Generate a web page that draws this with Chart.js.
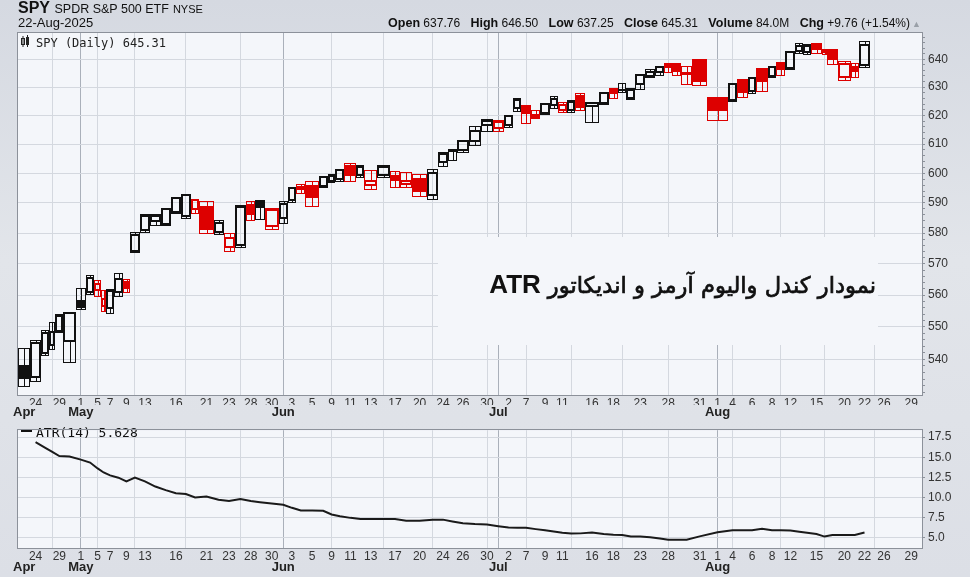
<!DOCTYPE html>
<html>
<head>
<meta charset="utf-8">
<script src="https://cdn.jsdelivr.net/npm/chart.js@4.4.1/dist/chart.umd.min.js"></script>
<style>
html,body{margin:0;padding:0}
body{width:970px;height:577px;overflow:hidden;position:relative;background:linear-gradient(180deg,#d5d9e1 0%,#e2e5ea 45%,#dcdfe6 100%);font-family:"Liberation Sans",Arial,sans-serif;color:#111}
canvas{position:absolute;left:0}
#main{top:0}
#atr{top:420px}
#sym{position:absolute;left:18px;top:-1px;line-height:18px;white-space:nowrap}
#sym b{font-size:16px}
#sym .name{font-size:12.5px}
#sym .ex{font-size:11px;margin-left:4px}
#date{position:absolute;left:18px;top:16px;font-size:13px;line-height:14px}
#quote{position:absolute;right:60px;top:16px;font-size:12px;line-height:14px;white-space:nowrap}
#quote b{font-size:12.5px;margin-left:7px}
#quote .up{color:#9aa0a8;font-size:9px;position:absolute;right:-11px;top:1px}
</style>
</head>
<body>
<canvas id="main" width="970" height="420"></canvas>
<canvas id="atr" width="970" height="157"></canvas>
<div id="sym"><b>SPY</b> <span class="name">SPDR S&amp;P 500 ETF</span><span class="ex">NYSE</span></div>
<div id="date">22-Aug-2025</div>
<div id="quote"></div>
<script>
// trading days shown (SPY daily, CandleVolume)
const dates = ['2025-04-23','2025-04-24','2025-04-25','2025-04-28','2025-04-29','2025-04-30','2025-05-01','2025-05-02','2025-05-05','2025-05-06',
'2025-05-07','2025-05-08','2025-05-09','2025-05-12','2025-05-13','2025-05-14','2025-05-15','2025-05-16','2025-05-19','2025-05-20',
'2025-05-21','2025-05-22','2025-05-23','2025-05-27','2025-05-28','2025-05-29','2025-05-30','2025-06-02','2025-06-03','2025-06-04',
'2025-06-05','2025-06-06','2025-06-09','2025-06-10','2025-06-11','2025-06-12','2025-06-13','2025-06-16','2025-06-17','2025-06-18',
'2025-06-20','2025-06-23','2025-06-24','2025-06-25','2025-06-26','2025-06-27','2025-06-30','2025-07-01','2025-07-02','2025-07-03',
'2025-07-07','2025-07-08','2025-07-09','2025-07-10','2025-07-11','2025-07-14','2025-07-15','2025-07-16','2025-07-17','2025-07-18',
'2025-07-21','2025-07-22','2025-07-23','2025-07-24','2025-07-25','2025-07-28','2025-07-29','2025-07-30','2025-07-31','2025-08-01',
'2025-08-04','2025-08-05','2025-08-06','2025-08-07','2025-08-08','2025-08-11','2025-08-12','2025-08-13','2025-08-14','2025-08-15',
'2025-08-18','2025-08-19','2025-08-20','2025-08-21','2025-08-22'];

const opens = [538.3,534.5,542,544.5,548.8,545.5,558.5,561,561.5,556.5,
556,561,564.5,574,581,584,583,587,585.5,588,
589,580.5,575.5,576,589.5,591,582.5,585,591,595.8,
596,595.7,597.5,598,602.8,599.3,596,599.5,599.5,596.5,
598.5,592.5,604,607.8,608,611,616.5,615.5,616.5,622.5,
623.5,619.5,621,623.5,622,622,627.3,623.3,624.3,629.5,
629.2,626,631,634,635.5,638.3,638.3,635.3,639.7,626.2,
625.5,632.6,628.5,636.5,634,638.8,637,643,642.5,645.8,
642.5,643.5,633.5,637.5,637.76];

const highs = [543.5,545.8,548.9,551.5,554.1,554.6,562.3,566.4,564.7,561.6,
562,567.1,565.2,580.3,586.2,586.2,588.4,591.7,593.1,591.4,
590.7,584.4,580.2,589.3,590.7,591,588.4,590.7,595.3,596.2,
597.3,599,599.6,601.4,603.4,602.8,601.2,602.8,600.7,600.4,
599.7,601.3,607.1,608.3,611.5,616.2,618.8,618.4,620,626,
623.8,621.9,624.5,626.9,624.7,625.4,628,624.7,628.4,629.8,
631.6,629.6,634.3,636.4,637.6,638.5,638.5,637.6,640,626.4,
631.3,632.8,633.7,636.8,637.6,639.1,642.8,646,645.6,646,
643.6,643.6,639.5,638.5,646.5];

const lows = [531.9,533.5,541.3,543.3,548.4,539.3,555.5,560.4,559.8,555,
554.2,559.8,560.9,573.8,580.3,582.8,582.6,586.5,584.9,586.5,
580.2,579.6,574.2,575.3,584.4,584.5,581.4,583.5,590.2,593.4,
589,595.2,596.9,597.5,597.5,598.8,594.6,598.7,595.4,595.4,
592.2,591.4,602.5,604.5,607.1,609.6,614.6,614.6,615.8,621.7,
617.4,619,620.4,622.6,621.2,621.2,622,617.8,624,626.2,
628.3,625.6,629.2,633.7,634.3,635.5,634.3,631,630.7,618.2,
625.1,626.4,628,628.7,633.5,634.3,636.4,642.4,642,642.4,
641.9,638.3,632.5,633.5,637.25];

const closes = [534,545,548.2,548.5,553.5,554.2,556,565.5,563.5,558.8,
561.2,565,562,579.5,585.5,585.8,588,591.5,592.5,591,
581,583.2,578.5,588.8,586,588.2,587.5,589.8,595,594.5,
591.5,598.7,599.2,601,599,602.3,597.5,602.2,597.5,597.3,
593.5,600,606.5,607.1,611,614.5,617.9,617.6,619.8,625.3,
620.5,620.3,624,625.8,623.6,624.8,622.5,624.2,628,627.5,
628.6,628.9,634.2,635.5,637.2,637,635.5,634.5,632,621.7,
631,628,633.2,632,637.2,636,642.5,644.8,645,643.5,
643.3,639.8,638.2,635.55,645.31];

const priorClose = 527.25;

// volume in millions (sets candle width)
const volume = [89,74,60,46,55,91,72,61,47,39,
54,65,50,72,72,77,72,74,70,62,
101,72,79,84,65,67,101,65,60,67,
95,65,55,65,86,57,91,90,77,84,
108,79,69,67,83,89,86,76,70,55,
72,67,67,57,67,60,72,95,72,67,
60,65,68,75,65,55,65,79,108,148,
67,76,62,81,62,65,72,55,57,79,
36,76,96,55,84];

const atr = [null,16.87,16.2,15.66,15.15,15.08,14.7,14.33,13.6,13.1,
12.74,12.45,12.0,12.47,12.0,11.35,10.9,10.52,10.42,10.0,
10.12,9.7,9.55,9.81,9.54,9.4,9.25,9.07,8.7,8.36,
8.36,8.33,7.87,7.65,7.45,7.31,7.31,7.31,7.31,7.1,
7.08,7.23,7.23,7.0,6.77,6.68,6.63,6.42,6.24,6.21,
6.21,6.05,5.9,5.75,5.6,5.5,5.52,5.62,5.45,5.34,
5.31,5.14,5.12,5.05,4.88,4.74,4.73,4.74,5.15,5.65,
5.9,5.9,5.9,6.09,5.9,5.9,5.88,5.72,5.6,5.43,
5.12,5.32,5.32,5.33,5.628];

// empty days on the right of the chart
const futureDates = ['2025-08-25','2025-08-26','2025-08-27','2025-08-28','2025-08-29'];
const futureVolume = 65;

// day numbers printed under the axis
const labeledDates = ['2025-04-24','2025-04-29','2025-05-01','2025-05-05','2025-05-07','2025-05-09','2025-05-13','2025-05-16','2025-05-21','2025-05-23',
'2025-05-28','2025-05-30','2025-06-03','2025-06-05','2025-06-09','2025-06-11','2025-06-13','2025-06-17','2025-06-20','2025-06-24',
'2025-06-26','2025-06-30','2025-07-02','2025-07-07','2025-07-09','2025-07-11','2025-07-16','2025-07-18','2025-07-23','2025-07-28',
'2025-07-31','2025-08-01','2025-08-04','2025-08-06','2025-08-08','2025-08-12','2025-08-15','2025-08-20','2025-08-22','2025-08-26','2025-08-29'];

const priceTicks = [540,550,560,570,580,590,600,610,620,630,640];
const atrTicks = [5,7.5,10,12.5,15,17.5];
const priceMin = 529.2, priceMax = 649.6;
const atrMin = 3.7, atrMax = 18.36;
const monthNames = ['Jan','Feb','Mar','Apr','May','Jun','Jul','Aug','Sep','Oct','Nov','Dec'];

const RED = '#dd0000', BLACK = '#111111', PLOT_BG = '#f4f6fa', GRID = '#d4d8df', GRID_MONTH = '#aab0ba';
const FONT = '"Liberation Sans", Arial, sans-serif';
Chart.defaults.font.family = FONT;

// x positions = cumulative volume
const allDates = dates.concat(futureDates);
const allVolume = volume.concat(futureDates.map(() => futureVolume));
const starts = [], ends = [], centers = [];
let acc = 0;
allVolume.forEach(v => { starts.push(acc); centers.push(acc + v / 2); acc += v; ends.push(acc); });
const xMax = acc + 0.7 * futureVolume;

const info = allDates.map(d => {
  const t = new Date(d + 'T00:00:00Z');
  return { day: t.getUTCDate(), month: t.getUTCMonth(), dow: t.getUTCDay(), time: t.getTime() };
});
const weekStart = info.map((o, i) => i > 0 && (o.dow < info[i - 1].dow || o.time - info[i - 1].time > 6 * 864e5));
const monthStart = info.map((o, i) => i > 0 && o.month !== info[i - 1].month);
const monthIdx = info.map((o, i) => i).filter(i => i === 0 || monthStart[i]);
const labeled = new Set(labeledDates);

// header text from the last bar
const n = closes.length - 1;
const chg = closes[n] - closes[n - 1];
document.getElementById('quote').innerHTML =
  '<b>Open</b> ' + opens[n].toFixed(2) + ' <b>High</b> ' + highs[n].toFixed(2) +
  ' <b>Low</b> ' + lows[n].toFixed(2) + ' <b>Close</b> ' + closes[n].toFixed(2) +
  ' <b>Volume</b> ' + volume[n].toFixed(1) + 'M <b>Chg</b> +' + chg.toFixed(2) +
  ' (+' + (chg / closes[n - 1] * 100).toFixed(2) + '%)<span class="up">&#9650;</span>';

function dayAxis(h) {
  return {
    type: 'linear', position: 'bottom', min: 0, max: xMax, weight: 1,
    afterBuildTicks: ax => { ax.ticks = centers.map(v => ({ value: v })); },
    afterFit: ax => { ax.height = h; },
    ticks: {
      autoSkip: false, maxRotation: 0, padding: 1, color: '#333', font: { size: 12 },
      callback: (v, i) => labeled.has(allDates[i]) ? String(info[i].day) : ''
    },
    grid: {
      drawTicks: false,
      color: c => monthStart[c.index] ? GRID_MONTH : (weekStart[c.index] ? GRID : 'rgba(0,0,0,0)')
    },
    border: { display: false }
  };
}

function monthAxis(h) {
  return {
    type: 'linear', position: 'bottom', min: 0, max: xMax, weight: 2,
    afterBuildTicks: ax => { ax.ticks = monthIdx.map(i => ({ value: centers[i] })); },
    afterFit: ax => { ax.height = h; },
    ticks: {
      autoSkip: false, maxRotation: 0, padding: 0, color: '#222', font: { size: 13, weight: 'bold' },
      callback: (v, i) => monthNames[info[monthIdx[i]].month]
    },
    grid: { display: false, drawTicks: false },
    border: { display: false }
  };
}

const plotBg = {
  id: 'plotBg',
  beforeDraw(chart) {
    const a = chart.chartArea, ctx = chart.ctx;
    ctx.save(); ctx.fillStyle = PLOT_BG; ctx.fillRect(a.left, a.top, a.right - a.left, a.bottom - a.top); ctx.restore();
  }
};

const frame = {
  id: 'frame',
  afterDraw(chart) {
    const a = chart.chartArea, ctx = chart.ctx;
    ctx.save(); ctx.strokeStyle = '#8c919a'; ctx.lineWidth = 1;
    ctx.strokeRect(Math.round(a.left) - 0.5, Math.round(a.top) - 0.5, Math.round(a.right - a.left) + 1, Math.round(a.bottom - a.top) + 1);
    ctx.restore();
  }
};

const candles = {
  id: 'candles',
  afterDatasetsDraw(chart) {
    const ctx = chart.ctx, x = chart.scales.x, y = chart.scales.y, a = chart.chartArea;
    ctx.save();
    ctx.beginPath(); ctx.rect(a.left, a.top, a.right - a.left, a.bottom - a.top); ctx.clip();
    for (let i = 0; i < closes.length; i++) {
      const prev = i === 0 ? priorClose : closes[i - 1];
      const col = closes[i] < prev ? RED : BLACK;
      const xl = Math.round(x.getPixelForValue(starts[i]));
      const xr = Math.round(x.getPixelForValue(ends[i]));
      const xc = Math.round((xl + xr) / 2) + 0.5;
      const yh = Math.round(y.getPixelForValue(highs[i])) + 0.5;
      const yl = Math.round(y.getPixelForValue(lows[i])) + 0.5;
      const yo = y.getPixelForValue(opens[i]), yc = y.getPixelForValue(closes[i]);
      const top = Math.round(Math.min(yo, yc)), bot = Math.round(Math.max(yo, yc));
      ctx.strokeStyle = col; ctx.fillStyle = col;
      ctx.lineWidth = 1;
      ctx.strokeRect(xl + 0.5, yh, xr - xl - 1, yl - yh);
      ctx.beginPath();
      ctx.moveTo(xc, yh); ctx.lineTo(xc, top);
      ctx.moveTo(xc, bot); ctx.lineTo(xc, yl);
      ctx.stroke();
      if (closes[i] < opens[i]) {
        ctx.fillRect(xl, top, xr - xl, Math.max(bot - top, 2));
      } else {
        ctx.lineWidth = 2;
        ctx.strokeRect(xl + 1, top, xr - xl - 2, Math.max(bot - top, 1));
      }
    }
    ctx.restore();
  }
};

const note = {
  id: 'note',
  afterDatasetsDraw(chart) {
    const ctx = chart.ctx;
    const fa = 'نمودار کندل والیوم آرمز و اندیکاتور';
    ctx.save();
    ctx.fillStyle = PLOT_BG;
    ctx.fillRect(438, 237, 440, 108);
    ctx.fillStyle = '#111'; ctx.strokeStyle = '#111'; ctx.lineWidth = 0.7;
    ctx.textBaseline = 'alphabetic';
    ctx.font = '24px "DejaVu Sans"';
    let size = 24 * 328 / ctx.measureText(fa).width;
    ctx.font = size.toFixed(1) + 'px "DejaVu Sans"';
    ctx.direction = 'rtl';
    ctx.textAlign = 'right';
    ctx.fillText(fa, 876, 293);
    ctx.strokeText(fa, 876, 293);
    const w = ctx.measureText(fa).width;
    ctx.direction = 'ltr';
    ctx.font = 'bold 24px "Liberation Sans"';
    size = 24 * 63 / ctx.measureText('ATR').width;
    ctx.font = 'bold ' + Math.min(size, 26).toFixed(1) + 'px "Liberation Sans"';
    ctx.fillText('ATR', 876 - w - 7, 293);
    ctx.restore();
  }
};

const spyLegend = {
  id: 'spyLegend',
  afterDraw(chart) {
    const ctx = chart.ctx;
    ctx.save();
    ctx.strokeStyle = '#222'; ctx.fillStyle = '#222'; ctx.lineWidth = 1;
    ctx.strokeRect(21.5, 38.5, 3, 6);
    ctx.fillRect(26, 37, 3, 8);
    ctx.beginPath(); ctx.moveTo(23, 36); ctx.lineTo(23, 47); ctx.moveTo(27.5, 35); ctx.lineTo(27.5, 47); ctx.stroke();
    ctx.font = '12px "DejaVu Sans Mono"';
    ctx.textBaseline = 'alphabetic';
    ctx.fillText('SPY (Daily) ' + closes[n].toFixed(2), 36, 47);
    ctx.restore();
  }
};

const atrLegend = {
  id: 'atrLegend',
  afterDraw(chart) {
    const ctx = chart.ctx;
    ctx.save();
    ctx.strokeStyle = '#111'; ctx.lineWidth = 2;
    ctx.beginPath(); ctx.moveTo(21, 11); ctx.lineTo(32, 11); ctx.stroke();
    ctx.fillStyle = '#111';
    ctx.font = '13px "DejaVu Sans Mono"';
    ctx.fillText('ATR(14) ' + atr[n].toFixed(3), 36, 16.5);
    ctx.restore();
  }
};

new Chart(document.getElementById('main'), {
  type: 'scatter',
  data: {
    datasets: [{
      data: closes.map((c, i) => ({ x: centers[i], y: c })),
      pointRadius: 0, showLine: false
    }]
  },
  options: {
    responsive: false, animation: false, events: [],
    layout: { padding: { left: 18, top: 33, right: 0, bottom: 0 } },
    plugins: { legend: { display: false }, tooltip: { enabled: false } },
    scales: {
      x: dayAxis(10),
      xm: monthAxis(15),
      y: {
        type: 'logarithmic', position: 'right', min: priceMin, max: priceMax,
        afterBuildTicks: ax => {
          const t = [];
          for (let v = 530; v <= 648; v += 2) t.push({ value: v });
          ax.ticks = t;
        },
        afterFit: ax => { ax.width = 48; },
        ticks: {
          autoSkip: false, padding: 3, color: '#333', font: { size: 12 },
          callback: v => priceTicks.includes(v) ? String(v) : ''
        },
        grid: {
          color: c => priceTicks.includes(c.tick.value) ? GRID : 'rgba(0,0,0,0)',
          tickColor: '#8c919a', tickLength: 3
        },
        border: { display: false }
      }
    }
  },
  plugins: [plotBg, candles, note, spyLegend, frame]
});

new Chart(document.getElementById('atr'), {
  type: 'line',
  data: {
    datasets: [{
      data: atr.map((v, i) => ({ x: centers[i], y: v })),
      borderColor: '#1a1a1a', borderWidth: 2, pointRadius: 0, tension: 0, fill: false
    }]
  },
  options: {
    responsive: false, animation: false, events: [],
    layout: { padding: { left: 18, top: 3, right: 0, bottom: 0 } },
    plugins: { legend: { display: false }, tooltip: { enabled: false } },
    scales: {
      x: dayAxis(12),
      xm: monthAxis(17),
      y: {
        type: 'linear', position: 'right', min: atrMin, max: atrMax,
        afterBuildTicks: ax => { ax.ticks = atrTicks.map(v => ({ value: v })); },
        afterFit: ax => { ax.width = 48; },
        ticks: { autoSkip: false, padding: 3, color: '#333', font: { size: 12 }, callback: v => v.toFixed(1) },
        grid: { color: GRID, tickColor: '#8c919a', tickLength: 3 },
        border: { display: false }
      }
    }
  },
  plugins: [plotBg, atrLegend, frame]
});
</script>
</body>
</html>
